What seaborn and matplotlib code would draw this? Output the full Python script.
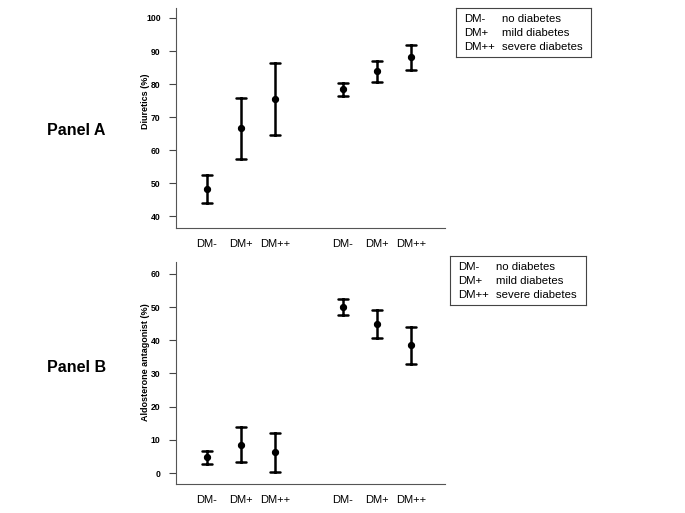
import numpy as np
import pandas as pd
import matplotlib
matplotlib.use('Agg')
import matplotlib.pyplot as plt
import seaborn as sns

sns.set_style('white')
plt.rcParams['font.family'] = ['Liberation Sans', 'DejaVu Sans']
plt.rcParams['text.color'] = 'black'
plt.rcParams['xtick.color'] = 'black'
plt.rcParams['ytick.color'] = 'black'
plt.rcParams['axes.labelcolor'] = 'black'

categories = ['DM-', 'DM+', 'DM++']
groups = ['first', 'second']

# Panel A - diuretics (%): mean with lower / upper limits
diur_mean = [48.3, 66.7, 75.5, 78.4, 83.9, 88.1]
diur_low = [44.1, 57.4, 64.6, 76.3, 80.7, 84.4]
diur_high = [52.6, 75.8, 86.3, 80.4, 87.0, 91.8]

# Panel B - aldosterone antagonist (%)
aldo_mean = [4.7, 8.5, 6.2, 50.0, 44.9, 38.6]
aldo_low = [2.8, 3.2, 0.2, 47.6, 40.6, 33.0]
aldo_high = [6.5, 14.0, 12.2, 52.3, 49.2, 44.0]

legend_text = [('DM-', 'no diabetes'), ('DM+', 'mild diabetes'), ('DM++', 'severe diabetes')]


def long_table(mean, low, high):
    rows = []
    for g in range(len(groups)):
        for i, cat in enumerate(categories):
            k = g * len(categories) + i
            pos = g * 4 + i
            for v in (low[k], mean[k], high[k]):
                rows.append({'pos': pos, 'cat': cat, 'value': v})
    return pd.DataFrame(rows)


def draw_panel(ax, mean, low, high, ylabel, ylim, yticks, label_y):
    df = long_table(mean, low, high)
    # median of (low, mean, high) = mean; 100% interval = low..high
    sns.pointplot(data=df, x='pos', y='value', estimator='median',
                  errorbar=('pi', 100), native_scale=True, linestyle='none',
                  color='black', capsize=0.3, err_kws={'linewidth': 1.8},
                  markersize=3.2, ax=ax)
    ax.set_xlim(-0.9, 7.0)
    ax.set_ylim(*ylim)
    ax.set_yticks(yticks)
    ax.set_yticklabels([str(t) for t in yticks], fontsize=6.2, fontweight='bold')
    ticks = sorted(df['pos'].unique())
    ax.set_xticks(ticks)
    ax.set_xticklabels(categories * len(groups), fontsize=8)
    ax.tick_params(axis='x', length=0, pad=8)
    ax.tick_params(axis='y', length=5, width=0.8, color='#444444', pad=6, left=True)
    ax.set_xlabel('')
    ax.set_ylabel(ylabel, fontsize=6.5, fontweight='bold')
    ax.yaxis.set_label_coords(-0.095, label_y)
    sns.despine(ax=ax)
    for s in ('left', 'bottom'):
        ax.spines[s].set_color('#555555')
        ax.spines[s].set_linewidth(0.8)


def draw_legend(fig, x0, y0, x1, y1):
    box = fig.add_axes([x0, y0, x1 - x0, y1 - y0])
    box.set_xticks([])
    box.set_yticks([])
    for s in box.spines.values():
        s.set_visible(True)
        s.set_color('#444444')
        s.set_linewidth(0.8)
    for j, (a, b) in enumerate(legend_text):
        yy = 0.776 - j * 0.286
        box.text(0.06, yy, a, fontsize=8.2, va='center', transform=box.transAxes)
        box.text(0.34, yy, b, fontsize=8.2, va='center', transform=box.transAxes)


fig = plt.figure(figsize=(6.85, 5.13), dpi=100)

W, H = 685, 513
axA = fig.add_axes([176 / W, 1 - 228 / H, (445 - 176) / W, (228 - 8) / H])
draw_panel(axA, diur_mean, diur_low, diur_high, 'Diuretics (%)', (36.5, 103),
           list(range(40, 101, 10)), (228 - 101) / 220)

axB = fig.add_axes([176 / W, 1 - 484 / H, (445 - 176) / W, (484 - 262) / H])
draw_panel(axB, aldo_mean, aldo_low, aldo_high, 'Aldosterone antagonist (%)', (-3.3, 63.6),
           list(range(0, 61, 10)), (484 - 362) / 222)

fig.text(47 / W, 1 - 131 / H, 'Panel A', fontsize=11.5, fontweight='bold', va='center')
fig.text(47 / W, 1 - 368 / H, 'Panel B', fontsize=11.5, fontweight='bold', va='center')

draw_legend(fig, 456 / W, 1 - 57 / H, 591 / W, 1 - 8 / H)
draw_legend(fig, 450 / W, 1 - 305 / H, 586 / W, 1 - 256 / H)

fig.savefig('out.png', dpi=100)
